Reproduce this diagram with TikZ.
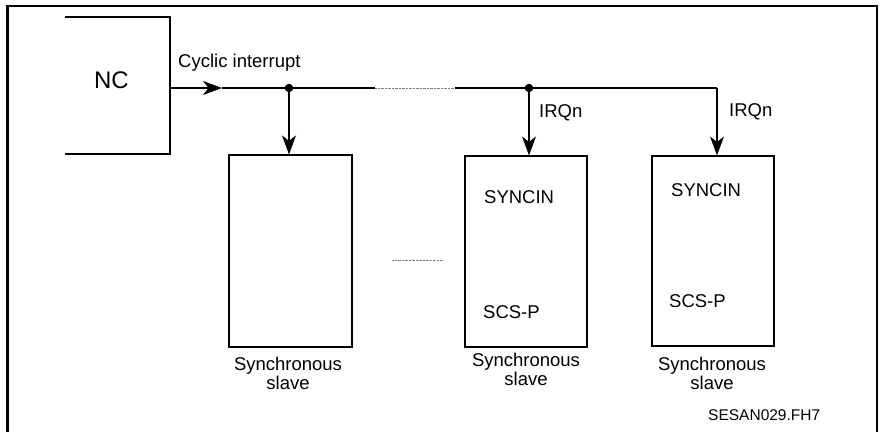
\documentclass[tikz,border=0pt]{standalone}
\usepackage{fontspec}
\setmainfont{Liberation Sans}
\usetikzlibrary{arrows.meta}
\begin{document}
\begin{tikzpicture}[x=1pt,y=-1pt,
  frame/.style={line width=2.4pt},
  conn/.style={line width=1.1pt},
  dots/.style={line width=1pt,gray,dash pattern=on 0.7pt off 0.7pt},
  tip/.style={-{Stealth[length=19pt,width=14pt,inset=5.5pt]}},
  slavebox/.style={draw,line width=1.1pt,minimum width=122pt,minimum height=191pt,inner sep=0pt},
  lbl/.style={inner sep=0pt,anchor=base west,font=\fontsize{18.5}{19}\selectfont},
  slavecaption/.style={inner sep=0pt,anchor=north,align=center,font=\fontsize{18.5}{19}\selectfont},
  junction/.style={circle,fill=black,inner sep=0pt,minimum size=8.5pt}
]
\useasboundingbox (0,0) rectangle (884,432);

% outer frame, open at the bottom
\draw[frame] (7.5,432) -- (7.5,6) -- (877,6) -- (877,432);

% NC block, open on its left side
\draw[conn] (65,17) -- (170,17) -- (170,154) -- (65,154);
\node[inner sep=0pt,anchor=base,font=\fontsize{24}{28}\selectfont] (nc) at (111.5,88) {NC};
\coordinate (ncout) at (170,88);

% slave blocks
\node[slavebox,minimum width=123pt,minimum height=192pt] (s1) at (290.5,251) {};
\node[slavebox] (s2) at (526,251.5) {};
\node[slavebox,minimum height=190pt] (s3) at (713,251) {};

% bus line
\coordinate (arr) at (222,88);
\node[junction] (d1) at (289,88) {};
\coordinate (gapl) at (375,88);
\coordinate (gapr) at (455,88);
\node[junction] (d2) at (529,88) {};
\coordinate (bend) at (717,88);

\draw[conn,tip] (ncout) -- (arr);
\draw[conn] (arr) -- (d1.center) -- (gapl);
\draw[dots] (gapl) -- (gapr);
\draw[conn] (gapr) -- (d2.center) -- (bend);

\draw[conn,tip] (d1.center) -- (d1.center |- s1.north);
\draw[conn,tip] (d2.center) -- (d2.center |- s2.north);
\draw[conn,tip] (bend) -- (bend |- s3.north);

% dotted gap between the slaves
\coordinate (mgl) at (392,260);
\coordinate (mgr) at (443,260);
\draw[dots] (mgl) -- (mgr);

% labels
\node[lbl] (cyc) at (178,67) {Cyclic interrupt};
\node[lbl] (irq2) at (539,117.5) {IRQn};
\node[lbl] (irq3) at (729,116.5) {IRQn};
\node[lbl] (sync2) at (484,203.5) {SYNCIN};
\node[lbl] (sync3) at (671,196.5) {SYNCIN};
\node[lbl] (scs2) at (483,318.5) {SCS-P};
\node[lbl] (scs3) at (669,307.5) {SCS-P};

\node[slavecaption] (c1) at (288,357) {Synchronous\\slave};
\node[slavecaption] (c2) at (526,353) {Synchronous\\slave};
\node[slavecaption] (c3) at (712,357) {Synchronous\\slave};

\node[inner sep=0pt,anchor=base west,font=\fontsize{15.5}{18}\selectfont] (ref) at (708,420) {SESAN029.FH7};
\end{tikzpicture}
\end{document}
